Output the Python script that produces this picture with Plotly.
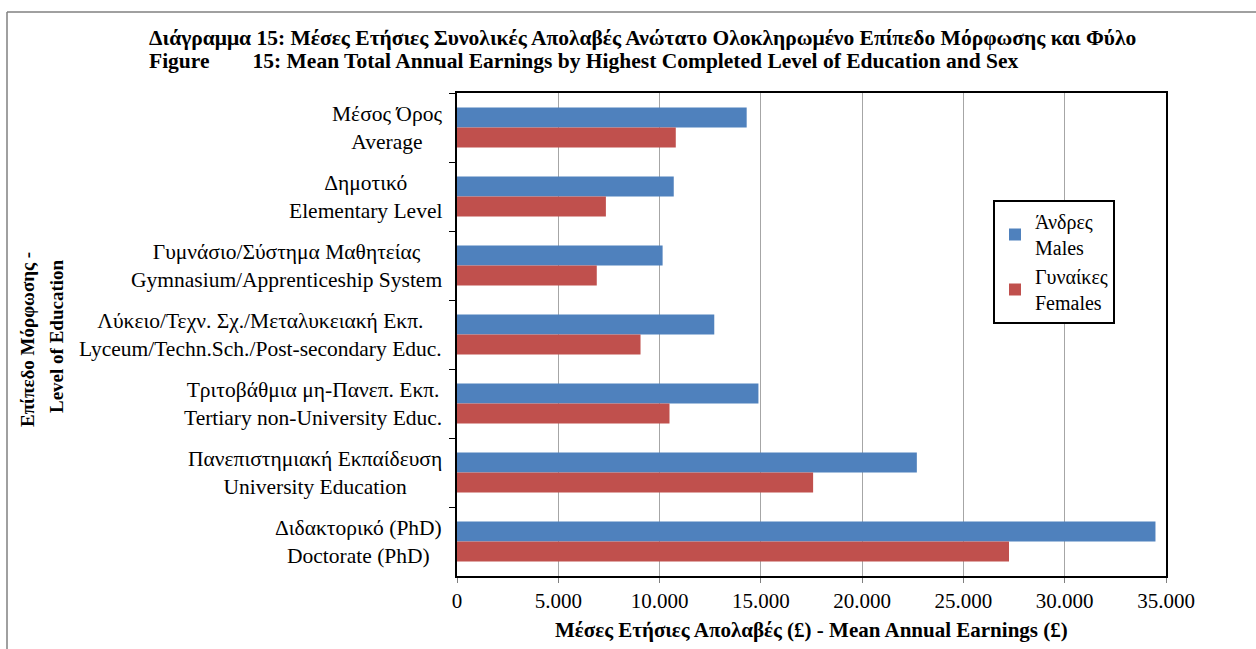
import plotly.graph_objects as go

categories_gr = ["Μέσος Όρος", "Δημοτικό", "Γυμνάσιο/Σύστημα Μαθητείας",
                 "Λύκειο/Τεχν. Σχ./Μεταλυκειακή Εκπ.", "Τριτοβάθμια μη-Πανεπ. Εκπ.",
                 "Πανεπιστημιακή Εκπαίδευση", "Διδακτορικό (PhD)"]
categories_en = ["Average", "Elementary Level", "Gymnasium/Apprenticeship System",
                 "Lyceum/Techn.Sch./Post-secondary Educ.", "Tertiary non-University Educ.",
                 "University Education", "Doctorate (PhD)"]
males = [14300, 10700, 10150, 12700, 14880, 22700, 34480]
females = [10800, 7350, 6900, 9060, 10490, 17580, 27250]
x_ticks = [0, 5000, 10000, 15000, 20000, 25000, 30000, 35000]
x_tick_labels = ["0", "5.000", "10.000", "15.000", "20.000", "25.000", "30.000", "35.000"]

title_gr = "Διάγραμμα 15: Μέσες Ετήσιες Συνολικές Απολαβές Ανώτατο Ολοκληρωμένο Επίπεδο Μόρφωσης και Φύλο"
title_en = "Figure\u00a0\u00a0\u00a0\u00a0\u00a0\u00a0\u00a0\u00a015: Mean Total Annual Earnings by Highest Completed Level of Education and Sex"
ytitle_gr = "Επίπεδο Μόρφωσης -"
ytitle_en = "Level of Education"
xtitle = "Μέσες Ετήσιες Απολαβές (£) - Mean Annual Earnings (£)"

cats = [f"{g}<br>{e}" for g, e in zip(categories_gr, categories_en)]

FONT = "Liberation Serif"
W, H = 1256, 649
L, R, T, B = 457, 1166, 93, 576  # plot area in pixels


def px(x):
    return (x - L) / (R - L)


def py(y):
    return (B - y) / (B - T)


fig = go.Figure()
fig.add_trace(go.Bar(y=cats, x=males, orientation="h", name="Άνδρες<br>Males",
                     marker=dict(color="#4F81BD", line=dict(width=0))))
fig.add_trace(go.Bar(y=cats, x=females, orientation="h", name="Γυναίκες<br>Females",
                     marker=dict(color="#C0504D", line=dict(width=0))))

for c in cats:
    fig.add_annotation(x=px(444), xref="paper", y=c, yref="y", text=c, showarrow=False,
                       xanchor="right", yanchor="middle", align="center",
                       font=dict(family=FONT, size=21.5, color="#000"))

fig.add_annotation(x=px(27), xref="paper", y=py(340), yref="paper",
                   text=f"<b>{ytitle_gr}</b>", textangle=-90, showarrow=False,
                   xanchor="center", yanchor="middle",
                   font=dict(family=FONT, size=19, color="#000"))
fig.add_annotation(x=px(56), xref="paper", y=py(337), yref="paper",
                   text=f"<b>{ytitle_en}</b>", textangle=-90, showarrow=False,
                   xanchor="center", yanchor="middle",
                   font=dict(family=FONT, size=19, color="#000"))

fig.add_annotation(x=px(147), xref="paper", y=py(38), yref="paper",
                   text=f"<b>{title_gr}</b>", showarrow=False,
                   xanchor="left", yanchor="middle",
                   font=dict(family=FONT, size=21.5, color="#000"))
fig.add_annotation(x=px(147), xref="paper", y=py(61), yref="paper",
                   text=f"<b>{title_en}</b>", showarrow=False,
                   xanchor="left", yanchor="middle",
                   font=dict(family=FONT, size=21.5, color="#000"))

fig.add_annotation(x=0.5, xref="paper", y=py(630), yref="paper",
                   text=f"<b>{xtitle}</b>", showarrow=False,
                   xanchor="center", yanchor="middle",
                   font=dict(family=FONT, size=21, color="#000"))

fig.update_layout(
    width=W, height=H,
    margin=dict(l=L, r=W - R, t=T, b=H - B),
    paper_bgcolor="white", plot_bgcolor="white",
    barmode="group", bargap=0.42, bargroupgap=0,
    font=dict(family=FONT, color="#000"),
    xaxis=dict(range=[0, 35000], tickvals=x_ticks, ticktext=x_tick_labels,
               showgrid=True, gridcolor="#A6A6A6", gridwidth=1,
               ticks="outside", ticklen=5, tickcolor="#808080",
               showline=True, linecolor="#000", linewidth=2, mirror=True,
               tickfont=dict(family=FONT, size=21), zeroline=False),
    yaxis=dict(autorange="reversed", showticklabels=False, tickson="boundaries",
               ticks="outside", ticklen=6, tickcolor="#000",
               showline=True, linecolor="#000", linewidth=2, mirror=True),
    legend=dict(x=px(993), y=py(200), xanchor="left", yanchor="top",
                bordercolor="#000", borderwidth=2, bgcolor="white",
                font=dict(family=FONT, size=20), tracegroupgap=8, itemwidth=30),
    shapes=[
        dict(type="line", xref="paper", yref="paper", x0=px(7), x1=px(1256),
             y0=py(12), y1=py(12), line=dict(color="#808080", width=1.5)),
        dict(type="line", xref="paper", yref="paper", x0=px(7), x1=px(7),
             y0=py(12), y1=py(649), line=dict(color="#808080", width=1.5)),
    ],
)

fig.write_html("out.html", config={"displayModeBar": False},
               post_script="document.body.style.margin='0';")
